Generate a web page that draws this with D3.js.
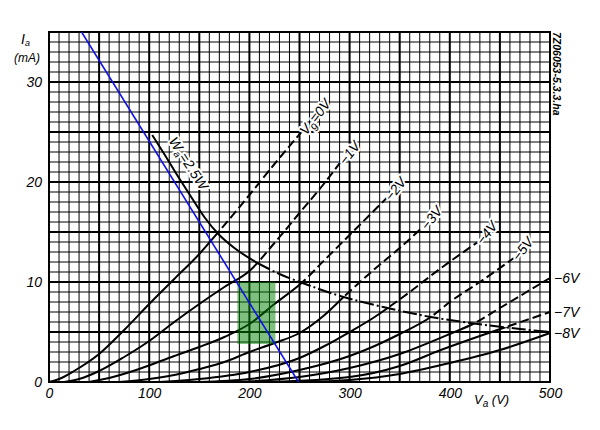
<!DOCTYPE html>
<html><head><meta charset="utf-8">
<script src="https://cdn.jsdelivr.net/npm/d3@7"></script>
<style>
body{margin:0;background:#fff}
svg{display:block}
text{font-family:"Liberation Sans",Arial,sans-serif;font-style:italic;fill:#000}
</style>
</head><body>
<svg id="c" width="600" height="430"></svg>
<script>
// ---------- data ----------
const xTicks = [0, 100, 200, 300, 400, 500];
const yTicks = [0, 10, 20, 30];
const gridLabels = ["Vg=0V", "−1V", "−2V", "−3V", "−4V", "−5V", "−6V", "−7V", "−8V"];
// Ia (mA) vs Va (V) for each grid voltage
const vg0 = [[0,0],[10,0.3],[25,1.1],[50,2.8],[75,5.2],[100,7.8],[125,10.3],[150,12.8],[170,15.1],[200,18.7],[225,21.8],[252,25.0]];
const vg1 = [[15,0],[30,0.3],[50,1.1],[75,2.5],[100,4.1],[125,6.0],[150,7.8],[175,9.5],[200,11.1],[225,13.9],[250,16.9],[275,19.9],[291,22.0]];
const vg2 = [[40,0],[60,0.4],[90,1.3],[125,2.6],[150,3.5],[175,4.5],[200,5.8],[225,7.8],[252,9.9],[275,12.2],[300,14.7],[337,18.4]];
const vg3 = [[70,0],[100,0.3],[125,0.7],[150,1.3],[175,2.0],[200,3.0],[225,3.9],[250,4.9],[275,6.7],[294,8.5],[325,11.3],[350,13.4],[373,15.5]];
const vg4 = [[110,0],[150,0.3],[200,1.0],[250,2.4],[275,3.6],[300,5.0],[325,6.5],[338,7.4],[360,9.0],[390,11.3],[428,14.0]];
const vg5 = [[150,0],[200,0.3],[250,1.2],[300,2.6],[325,3.6],[350,4.8],[381,6.5],[400,8.0],[430,10.0],[464,12.4]];
const vg6 = [[190,0],[250,0.5],[300,1.4],[350,2.8],[400,4.8],[425,5.9],[450,7.4],[475,8.9],[500,10.4]];
const vg7 = [[220,0],[300,0.5],[350,1.6],[391,3.2],[430,4.6],[465,5.8],[500,7.0]];
const vg8 = [[250,0],[300,0.2],[350,0.8],[400,1.9],[450,3.2],[500,4.9]];
// max anode dissipation curve Wa = 2.5 W (as drawn)
const hyperbola = [[103,24.7],[115,22.8],[126,21.0],[140,18.8],[155,16.5],[169,14.8],[185,13.4],[208,11.9],[230,10.8],[253,9.9],[294,8.5],[338,7.4],[381,6.5],[428,5.8],[470,5.3],[500,5.0]];
// load line (blue)
const loadLine = [[32.5,35],[249,0]];
// highlighted operating area (green) : [Va min, Va max], [Ia min, Ia max]
const areaVa = [188, 226];
const areaIa = [3.8, 10];

// ---------- drawing ----------
const svg = d3.select("#c");
const x = d3.scaleLinear().domain([0, 500]).range([49, 550]);
const y = d3.scaleLinear().domain([0, 35]).range([382, 32]);

const curves = [vg0, vg1, vg2, vg3, vg4, vg5, vg6, vg7, vg8];

// grid
const g = svg.append("g");
d3.range(0, 501, 10).forEach(v => {
  const major = v % 50 === 0;
  g.append("line").attr("x1", x(v)).attr("x2", x(v)).attr("y1", y(0)).attr("y2", y(35))
    .attr("stroke", "#000").attr("stroke-width", major ? 2 : 1);
});
d3.range(0, 36, 1).forEach(i => {
  const major = i % 5 === 0;
  g.append("line").attr("x1", x(0)).attr("x2", x(500)).attr("y1", y(i)).attr("y2", y(i))
    .attr("stroke", "#000").attr("stroke-width", major ? 2 : 1);
});
g.append("rect").attr("x", x(0)).attr("y", y(35)).attr("width", x(500) - x(0)).attr("height", y(0) - y(35))
  .attr("fill", "none").attr("stroke", "#000").attr("stroke-width", 2);

// clip regions: below / above dissipation curve
const defs = svg.append("defs");
const hypPx = hyperbola.map(d => [x(d[0]), y(d[1])]);
const last = hyperbola[hyperbola.length - 1];
const below = [[x(-5), y(-2)], [x(-5), y(40)], [x(hyperbola[0][0]), y(40)], ...hypPx, [x(520), y(last[1])], [x(520), y(-2)]];
const above = [[x(hyperbola[0][0]), y(40)], ...hypPx, [x(520), y(last[1])], [x(520), y(40)]];
defs.append("clipPath").attr("id", "below").append("polygon").attr("points", below.map(p => p.join(",")).join(" "));
defs.append("clipPath").attr("id", "above").append("polygon").attr("points", above.map(p => p.join(",")).join(" "));
defs.append("clipPath").attr("id", "plot").append("rect")
  .attr("x", x(0)).attr("y", y(35)).attr("width", x(500) - x(0)).attr("height", y(0) - y(35));

const line = d3.line().x(d => x(d[0])).y(d => y(d[1])).curve(d3.curveMonotoneX);

const cg = svg.append("g");
curves.forEach(c => {
  cg.append("path").attr("d", line(c)).attr("fill", "none").attr("stroke", "#000")
    .attr("stroke-width", 2).attr("clip-path", "url(#below)");
  cg.append("path").attr("d", line(c)).attr("fill", "none").attr("stroke", "#000")
    .attr("stroke-width", 2).attr("stroke-dasharray", "9,4").attr("clip-path", "url(#above)");
});

// labels (drawn before the dissipation curve so the curve stays visible)
const halo = sel => sel.attr("stroke", "#fff").attr("stroke-width", 4).attr("paint-order", "stroke")
  .attr("stroke-linejoin", "round");
curves.forEach((c, i) => {
  const e = c[c.length - 1];
  const px = x(e[0]), py = y(e[1]);
  const t = svg.append("text").attr("font-size", 14).call(halo);
  if (i <= 5) {
    t.attr("transform", `translate(${px + 1},${py + 1}) rotate(-52)`).attr("dy", "0.35em");
  } else {
    t.attr("x", px + 4).attr("y", py + 5);
  }
  const lab = gridLabels[i];
  if (lab.startsWith("Vg")) {
    t.append("tspan").text("V");
    t.append("tspan").attr("font-size", 11).attr("dy", 3).text("g");
    t.append("tspan").attr("dy", -3).text("=0V");
  } else t.text(lab);
});

// Wa label
const wl = svg.append("text").attr("font-size", 14).call(halo)
  .attr("transform", `translate(${x(119)},${y(24.1)}) rotate(57)`);
wl.append("tspan").text("W");
wl.append("tspan").attr("font-size", 10).attr("dy", 3).text("a");
wl.append("tspan").attr("dy", -3).text("=2.5W");

// dissipation curve
const hline = d3.line().x(d => x(d[0])).y(d => y(d[1])).curve(d3.curveMonotoneX);
svg.append("path").attr("d", hline(hyperbola.filter(d => d[0] <= 208))).attr("fill", "none")
  .attr("stroke", "#000").attr("stroke-width", 2);
svg.append("path").attr("d", hline(hyperbola.filter(d => d[0] >= 208))).attr("fill", "none")
  .attr("stroke", "#000").attr("stroke-width", 2).attr("stroke-dasharray", "14,3,2,3");

// green area
svg.append("rect").attr("x", x(areaVa[0])).attr("width", x(areaVa[1]) - x(areaVa[0]))
  .attr("y", y(areaIa[1])).attr("height", y(areaIa[0]) - y(areaIa[1]))
  .attr("fill", "rgb(0,128,0)").attr("fill-opacity", 0.5);

// load line
svg.append("path").attr("d", d3.line().x(d => x(d[0])).y(d => y(d[1]))(loadLine))
  .attr("stroke", "#1010e8").attr("stroke-width", 1.6).attr("fill", "none").attr("clip-path", "url(#plot)");

// axes
const xa = svg.append("g").attr("transform", `translate(0,${y(0)})`)
  .call(d3.axisBottom(x).tickValues(xTicks).tickSize(0).tickPadding(6));
const ya = svg.append("g").attr("transform", `translate(${x(0)},0)`)
  .call(d3.axisLeft(y).tickValues(yTicks).tickSize(0).tickPadding(7));
[xa, ya].forEach(a => {
  a.select(".domain").remove();
  a.selectAll("text").attr("font-size", 14).attr("font-family", '"Liberation Sans",Arial,sans-serif')
    .attr("font-style", "italic");
});

// axis titles
const ia = svg.append("text").attr("x", 21).attr("y", 44).attr("font-size", 14);
ia.append("tspan").text("I");
ia.append("tspan").attr("font-size", 9).attr("dy", 2).text("a");
svg.append("text").attr("x", 14).attr("y", 62).attr("font-size", 12).text("(mA)");

const va = svg.append("text").attr("x", 474).attr("y", 404).attr("font-size", 13);
va.append("tspan").text("V");
va.append("tspan").attr("font-size", 10).attr("dy", 3).text("a");
va.append("tspan").attr("dy", -3).text(" (V)");

// code on the right
svg.append("text").attr("transform", "translate(553,32) rotate(90)").attr("font-size", 10.5)
  .attr("font-weight", "bold").attr("font-style", "normal").text("7Z06053-5.3.3.ha");
</script>
</body></html>
